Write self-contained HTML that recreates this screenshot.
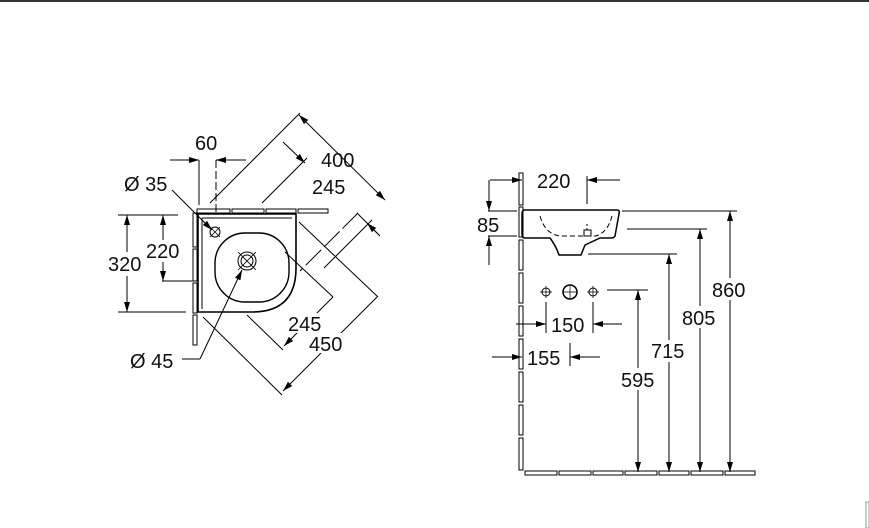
<!DOCTYPE html>
<html><head><meta charset="utf-8"><style>
html,body{margin:0;padding:0;background:#fff;}
svg{display:block;}
text{font-family:"Liberation Sans",sans-serif;font-size:20px;fill:#111;}
</style></head><body>
<svg width="869" height="528" viewBox="0 0 869 528" xmlns="http://www.w3.org/2000/svg">
<defs>
<marker id="a" viewBox="0 0 10 6" refX="10" refY="3" markerWidth="10" markerHeight="6" orient="auto-start-reverse" markerUnits="userSpaceOnUse"><path d="M0,0 L10,3 L0,6z" fill="#000"/></marker>
</defs>
<rect x="0" y="0" width="869" height="2" fill="#333"/>
<g stroke="#000" stroke-width="1" fill="none">
<!-- LEFT VIEW -->
<rect x="197" y="209" width="33" height="4" fill="#fff"/>
<rect x="232" y="209" width="32" height="4" fill="#fff"/>
<rect x="266" y="209" width="30" height="4" fill="#fff"/>
<rect x="298" y="209" width="30" height="4" fill="#fff"/>
<rect x="193" y="213" width="4" height="34" fill="#fff"/>
<rect x="193" y="249" width="4" height="32" fill="#fff"/>
<rect x="193" y="283" width="4" height="30" fill="#fff"/>
<rect x="193" y="315" width="4" height="30" fill="#fff"/>
<path d="M198,214 H296 V268 Q296,312 252,312 H198 Z" stroke-width="1.6"/>
<path d="M202,218 H292" />
<path d="M202,218 V309"/>
<rect x="215" y="233" width="74" height="69" rx="30" stroke-width="1.4"/>
<circle cx="247" cy="261" r="9"/>
<circle cx="247" cy="261" r="6"/>
<path d="M238,252 L256,270 M256,252 L238,270" stroke-width="0.8"/>
<circle cx="215" cy="232" r="5"/>
<path d="M210,227 L220,237 M220,227 L210,237" stroke-width="0.8"/>
<line x1="199" y1="160" x2="199" y2="205"/>
<line x1="216" y1="160" x2="216" y2="215" stroke-dasharray="8,3"/>
<line x1="170" y1="160" x2="199" y2="160" marker-end="url(#a)"/>
<line x1="246" y1="160" x2="216" y2="160" marker-end="url(#a)"/>
<line x1="172" y1="190" x2="212" y2="230" marker-end="url(#a)"/>
<line x1="118" y1="215" x2="178" y2="215"/>
<line x1="118" y1="312" x2="186" y2="312"/>
<line x1="127" y1="215" x2="127" y2="252" marker-start="url(#a)"/>
<line x1="127" y1="276" x2="127" y2="312" marker-end="url(#a)"/>
<line x1="162" y1="281" x2="198" y2="281"/>
<line x1="163" y1="215" x2="163" y2="240" marker-start="url(#a)"/>
<line x1="163" y1="262" x2="163" y2="281" marker-end="url(#a)"/>
<polyline points="182,359 200,359"/>
<line x1="200" y1="359" x2="242" y2="270" marker-end="url(#a)"/>
<line x1="210" y1="203" x2="300" y2="113"/>
<line x1="262" y1="203" x2="307" y2="158"/>
<line x1="299" y1="115" x2="385" y2="200" marker-start="url(#a)" marker-end="url(#a)"/>
<line x1="283" y1="142" x2="305" y2="163" marker-end="url(#a)"/>
<line x1="358" y1="213" x2="300" y2="271" stroke-dasharray="22,4"/>
<line x1="372" y1="220" x2="324" y2="268"/>
<line x1="357" y1="213" x2="378" y2="234"/>
<line x1="380" y1="236" x2="367" y2="223" marker-end="url(#a)"/>
<line x1="299" y1="222" x2="378" y2="297"/>
<line x1="285" y1="252" x2="333" y2="297"/>
<line x1="247" y1="315" x2="283" y2="350"/>
<line x1="203" y1="317" x2="282" y2="395"/>
<line x1="333" y1="297" x2="284" y2="346" marker-end="url(#a)"/>
<line x1="377" y1="297" x2="283" y2="391" marker-end="url(#a)"/>
<!-- RIGHT VIEW -->
<g fill="#fff">
<rect x="519" y="173" width="4" height="32"/>
<rect x="519" y="207" width="4" height="30"/>
<rect x="519" y="240" width="4" height="30"/>
<rect x="519" y="273" width="4" height="30"/>
<rect x="519" y="306" width="4" height="30"/>
<rect x="519" y="339" width="4" height="30"/>
<rect x="519" y="372" width="4" height="30"/>
<rect x="519" y="405" width="4" height="30"/>
<rect x="519" y="438" width="4" height="32"/>
<rect x="525" y="471" width="32" height="4"/>
<rect x="559" y="471" width="32" height="4"/>
<rect x="593" y="471" width="30" height="4"/>
<rect x="625" y="471" width="32" height="4"/>
<rect x="659" y="471" width="30" height="4"/>
<rect x="691" y="471" width="32" height="4"/>
<rect x="725" y="471" width="30" height="4"/>
</g>
<path d="M525,210 H617 Q620,210 619,214 L615,236 Q614,238 611,238 H600 L585,245 L581,255 H559 Q556,246 550,238 H525 Q522,238 522,234 V214 Q522,210 525,210 Z" stroke-width="1.5"/>
<path d="M540,216 Q545,234 560,236 H596 Q608,232 612,216" stroke-dasharray="5,3"/>
<rect x="584" y="230" width="7" height="6"/>
<path d="M587,224 v6" stroke-dasharray="2,2"/>
<circle cx="570" cy="292" r="7" stroke-width="1.5"/>
<circle cx="546" cy="292" r="4"/>
<circle cx="593" cy="292" r="4"/>
<path d="M540,292h12M546,286v12M587,292h12M593,286v12M563,292h14M570,285v14" stroke-width="0.7"/>
<line x1="490" y1="180" x2="522" y2="180" marker-end="url(#a)"/>
<line x1="587" y1="176" x2="587" y2="204"/>
<line x1="620" y1="180" x2="587" y2="180" marker-end="url(#a)"/>
<line x1="488" y1="211" x2="517" y2="211"/>
<line x1="488" y1="236" x2="517" y2="236"/>
<line x1="489" y1="180" x2="489" y2="211" marker-end="url(#a)"/>
<line x1="489" y1="265" x2="489" y2="236" marker-end="url(#a)"/>
<line x1="546" y1="302" x2="546" y2="333"/>
<line x1="593" y1="302" x2="593" y2="333"/>
<line x1="516" y1="324" x2="546" y2="324" marker-end="url(#a)"/>
<line x1="622" y1="324" x2="593" y2="324" marker-end="url(#a)"/>
<line x1="570" y1="343" x2="570" y2="366"/>
<line x1="492" y1="357" x2="522" y2="357" marker-end="url(#a)"/>
<line x1="600" y1="357" x2="570" y2="357" marker-end="url(#a)"/>
<line x1="607" y1="290" x2="648" y2="290"/>
<line x1="638" y1="290" x2="638" y2="472" marker-start="url(#a)" marker-end="url(#a)"/>
<line x1="588" y1="254" x2="677" y2="254"/>
<line x1="669" y1="254" x2="669" y2="472" marker-start="url(#a)" marker-end="url(#a)"/>
<line x1="627" y1="229" x2="707" y2="229"/>
<line x1="700" y1="229" x2="700" y2="472" marker-start="url(#a)" marker-end="url(#a)"/>
<line x1="622" y1="211" x2="737" y2="211"/>
<line x1="730" y1="211" x2="730" y2="472" marker-start="url(#a)" marker-end="url(#a)"/>
</g>
<g fill="#fff" stroke="none">
<rect x="620" y="368" width="38" height="22"/>
<rect x="651" y="340" width="38" height="22"/>
<rect x="682" y="306" width="38" height="22"/>
<rect x="712" y="278" width="38" height="22"/>
<rect x="285" y="313" width="40" height="20"/>
<rect x="308" y="333" width="40" height="20"/>
</g>
<text x="195" y="150">60</text>
<text x="124" y="191">Ø 35</text>
<text x="321" y="167">400</text>
<text x="312" y="194">245</text>
<text x="146" y="258">220</text>
<text x="108" y="271">320</text>
<text x="288" y="331">245</text>
<text x="309" y="351">450</text>
<text x="130" y="368">Ø 45</text>
<text x="537" y="188">220</text>
<text x="477" y="232">85</text>
<text x="551" y="332">150</text>
<text x="527" y="365">155</text>
<text x="621" y="387">595</text>
<text x="651" y="358">715</text>
<text x="682" y="325">805</text>
<text x="712" y="297">860</text>
<rect x="866" y="502" width="3" height="26" fill="none" stroke="#999"/>
</svg>
</body></html>
